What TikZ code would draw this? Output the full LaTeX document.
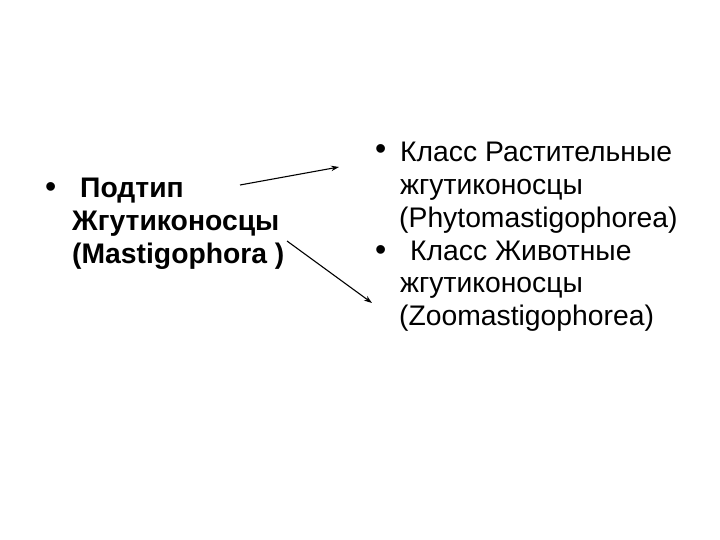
\documentclass[tikz,border=0pt]{standalone}
\usepackage{fontspec}
\setmainfont{Liberation Sans}
\usetikzlibrary{arrows.meta}
\begin{document}
\begin{tikzpicture}[x=1pt,y=-1pt,
  txt/.style={anchor=base west,inner sep=0pt,font=\fontsize{28.3}{32}\selectfont},
  btxt/.style={txt,font=\fontsize{28.3}{32}\selectfont\bfseries},
  bul/.style={anchor=base west,inner sep=0pt,font=\fontsize{32}{32}\selectfont},
  arr/.style={line width=1.1pt,-{Stealth[length=8pt,width=5.5pt]}}]
\useasboundingbox (0,0) rectangle (720,540);
\fill[white] (0,0) rectangle (720,540);
% left block
\node[bul] (lb) at (45,197) {•};
\node[btxt] (l1) at (80,197) {Подтип};
\node[btxt] (l2) at (72,230) {Жгутиконосцы};
\node[btxt] (l3) at (72,263) {(Mastigophora )};
% right block
\node[bul] (rb1) at (375,160) {•};
\node[txt] (r1) at (400,162) {Класс Растительные};
\node[txt] (r2) at (400,195) {жгутиконосцы};
\node[txt] (r3) at (399,227) {(Phytomastigophorea)};
\node[bul] (rb2) at (375,260) {•};
\node[txt] (r4) at (410,260) {Класс Животные};
\node[txt] (r5) at (400,292) {жгутиконосцы};
\node[txt] (r6) at (399,325) {(Zoomastigophorea)};
% arrows
\coordinate (a1s) at (240,185);
\coordinate (a1e) at (339,167);
\coordinate (a2s) at (287,241);
\coordinate (a2e) at (372,303);
\draw[arr] (a1s) -- (a1e);
\draw[arr] (a2s) -- (a2e);
\end{tikzpicture}
\end{document}
